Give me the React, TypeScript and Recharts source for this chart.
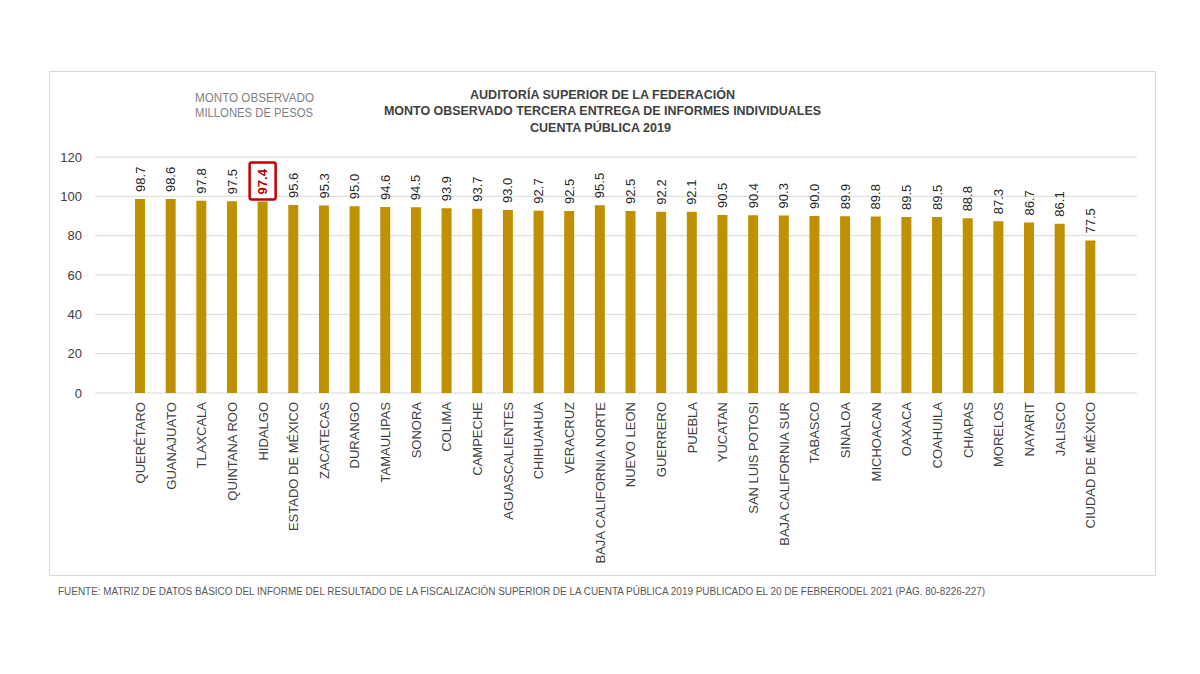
import React from "react";
import { BarChart, Bar, XAxis, YAxis, CartesianGrid, LabelList } from "recharts";

const states = [
  "QUERÉTARO", "GUANAJUATO", "TLAXCALA", "QUINTANA ROO", "HIDALGO", "ESTADO DE MÉXICO",
  "ZACATECAS", "DURANGO", "TAMAULIPAS", "SONORA", "COLIMA", "CAMPECHE", "AGUASCALIENTES",
  "CHIHUAHUA", "VERACRUZ", "BAJA CALIFORNIA NORTE", "NUEVO LEON", "GUERRERO", "PUEBLA",
  "YUCATAN", "SAN LUIS POTOSI", "BAJA CALIFORNIA SUR", "TABASCO", "SINALOA", "MICHOACAN",
  "OAXACA", "COAHUILA", "CHIAPAS", "MORELOS", "NAYARIT", "JALISCO", "CIUDAD DE MÉXICO",
];
const values = [
  98.7, 98.6, 97.8, 97.5, 97.4, 95.6, 95.3, 95.0, 94.6, 94.5, 93.9, 93.7, 93.0, 92.7, 92.5,
  95.5, 92.5, 92.2, 92.1, 90.5, 90.4, 90.3, 90.0, 89.9, 89.8, 89.5, 89.5, 88.8, 87.3, 86.7,
  86.1, 77.5,
];
const yTicks = [0, 20, 40, 60, 80, 100, 120];
const highlight = "HIDALGO";

const titleLines = [
  "AUDITORÍA SUPERIOR DE LA FEDERACIÓN",
  "MONTO OBSERVADO TERCERA ENTREGA DE INFORMES INDIVIDUALES",
  "CUENTA PÚBLICA 2019",
];
const subtitleLines = ["MONTO OBSERVADO", "MILLONES DE PESOS"];
const footer =
  "FUENTE: MATRIZ DE DATOS BÁSICO DEL INFORME DEL RESULTADO DE LA FISCALIZACIÓN SUPERIOR DE LA CUENTA PÚBLICA 2019 PUBLICADO EL 20 DE FEBRERODEL 2021 (PÁG. 80-8226-227)";

const data = states.map((s, i) => ({ name: s, value: values[i] }));

const FONT = "'Liberation Sans', Arial, sans-serif";

const XTick = (props: any) => {
  const { x, y, payload } = props;
  return (
    <text
      transform={`translate(${x},${y}) rotate(-90)`}
      textAnchor="end"
      dy="0.35em"
      fontSize={13}
      fill="#404040"
      fontFamily={FONT}
    >
      {payload.value}
    </text>
  );
};

const ValueLabel = (props: any) => {
  const { x, y, width, value, index } = props;
  const cx = x + width / 2;
  const isHi = data[index] && data[index].name === highlight;
  return (
    <g transform={`translate(${cx},${y - 7}) rotate(-90)`}>
      {isHi && (
        <rect x={-5} y={-13} width={37} height={26} rx={2} fill="#fff" stroke="#C00000" strokeWidth={2.5} />
      )}
      <text
        x={0}
        y={0}
        dy="0.35em"
        textAnchor="start"
        fontSize={13}
        fontWeight={isHi ? 700 : 400}
        fill={isHi ? "#C00000" : "#262626"}
        fontFamily={FONT}
      >
        {Number(value).toFixed(1)}
      </text>
    </g>
  );
};

export default function App() {
  return (
    <div style={{ position: "absolute", left: 0, top: 0, width: 1200, height: 674, background: "#fff" }}>
      <div
        style={{
          position: "absolute",
          left: 49,
          top: 71,
          width: 1105,
          height: 503,
          border: "1px solid #d9d9d9",
        }}
      />
      <div style={{ position: "absolute", left: 0, top: 0 }}>
        <BarChart
          width={1200}
          height={674}
          data={data}
          margin={{ top: 157, right: 63, bottom: 101, left: 50 }}
        >
          <CartesianGrid vertical={false} stroke="#d9d9d9" />
          <XAxis
            dataKey="name"
            interval={0}
            height={180}
            tick={<XTick />}
            tickLine={false}
            axisLine={false}
            tickMargin={3}
            padding={{ left: 30, right: 31 }}
          />
          <YAxis
            domain={[0, 120]}
            ticks={yTicks}
            width={45}
            tickLine={false}
            axisLine={false}
            tickMargin={7}
            tick={{ fontSize: 13, fill: "#404040", fontFamily: FONT }}
          />
          <Bar dataKey="value" fill="#BF9000" barSize={10} isAnimationActive={false}>
            <LabelList dataKey="value" content={<ValueLabel />} />
          </Bar>
        </BarChart>
      </div>
      <svg
        width={1200}
        height={674}
        style={{ position: "absolute", left: 0, top: 0, pointerEvents: "none" }}
        fontFamily={FONT}
      >
        <text x={470} y={99} fontSize={13} fontWeight={700} fill="#404040" textLength={265} lengthAdjust="spacingAndGlyphs">
          {titleLines[0]}
        </text>
        <text x={384} y={115} fontSize={13} fontWeight={700} fill="#404040" textLength={437} lengthAdjust="spacingAndGlyphs">
          {titleLines[1]}
        </text>
        <text x={530} y={132} fontSize={13} fontWeight={700} fill="#404040" textLength={141} lengthAdjust="spacingAndGlyphs">
          {titleLines[2]}
        </text>
        <text x={195} y={102} fontSize={12} fill="#7f7f7f" textLength={119} lengthAdjust="spacingAndGlyphs">
          {subtitleLines[0]}
        </text>
        <text x={195} y={117} fontSize={12} fill="#7f7f7f" textLength={118} lengthAdjust="spacingAndGlyphs">
          {subtitleLines[1]}
        </text>
        <text x={58} y={595} fontSize={10} fill="#595959" textLength={927} lengthAdjust="spacingAndGlyphs">
          {footer}
        </text>
      </svg>
    </div>
  );
}
